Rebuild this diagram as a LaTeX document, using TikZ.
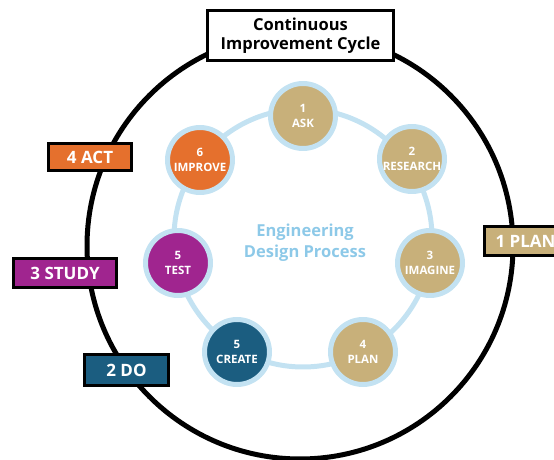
\documentclass[tikz,border=0pt]{standalone}
\usepackage{fontspec}
\setmainfont{Open Sans}
\definecolor{edpgold}{HTML}{C8B07A}
\definecolor{edporange}{HTML}{E5702D}
\definecolor{edppurple}{HTML}{A0258F}
\definecolor{edpblue}{HTML}{1B5D80}
\definecolor{ringblue}{HTML}{C3E2F2}
\definecolor{titleblue}{HTML}{8DC9E8}
\tikzset{
  stage/.style={circle, draw=ringblue, line width=5pt, minimum size=65pt, inner sep=0pt,
    text=white, align=center, font=\fontsize{11.5}{15}\selectfont\bfseries},
  pdca/.style={draw=black, line width=3pt, inner sep=0pt, text=white,
    font=\fontsize{17}{20}\selectfont\bfseries},
}

\begin{document}
\begin{tikzpicture}[x=1pt, y=1pt]
	%%%%% START %%%%%
	\useasboundingbox (0, 0) rectangle (554, 460);
	
	\draw[line width=5pt] (300, 214) circle (213);
	
	\draw[line width=5pt, color=ringblue] (303, 222) circle (129);
	
	\foreach \x/\y/\n/\lbl/\col [count=\i] in {
			303/344/1/ASK/edpgold, 412/301/2/RESEARCH/edpgold,
			430/197/3/IMAGINE/edpgold, 363/108/4/PLAN/edpgold,
			237/108/5/CREATE/edpblue, 178/197/5/TEST/edppurple,
			200/300/6/IMPROVE/edporange}
		\node[stage, fill=\col] (s\i) at (\x, \y) {\n\\\lbl};
	
	\node[align=center, text=titleblue, font=\fontsize{16.5}{21}\selectfont\bfseries] (edp) at (305, 217) {Engineering\\Design Process};
	
	\node[draw=black, line width=3.3pt, fill=white, minimum width=186pt, minimum height=50pt, inner sep=0pt,
		align=center, font=\fontsize{16.5}{19.5}\selectfont\bfseries] (cic) at (300.5, 424.5) {Continuous\\Improvement Cycle};
	
	\node[pdca, fill=edpgold, minimum width=82pt, minimum height=29pt] (plan) at (525.5, 219) {1 PLAN\hspace{12pt}};
	\node[pdca, fill=edpblue, minimum width=84pt, minimum height=31pt] (do) at (126.5, 90) {2 DO};
	\node[pdca, fill=edppurple, minimum width=103pt, minimum height=29pt] (study) at (65, 187) {3 STUDY};
	\node[pdca, fill=edporange, minimum width=83pt, minimum height=27pt] (act) at (90, 303) {4 ACT};
	%%%%% END %%%%%
\end{tikzpicture}
\end{document}
